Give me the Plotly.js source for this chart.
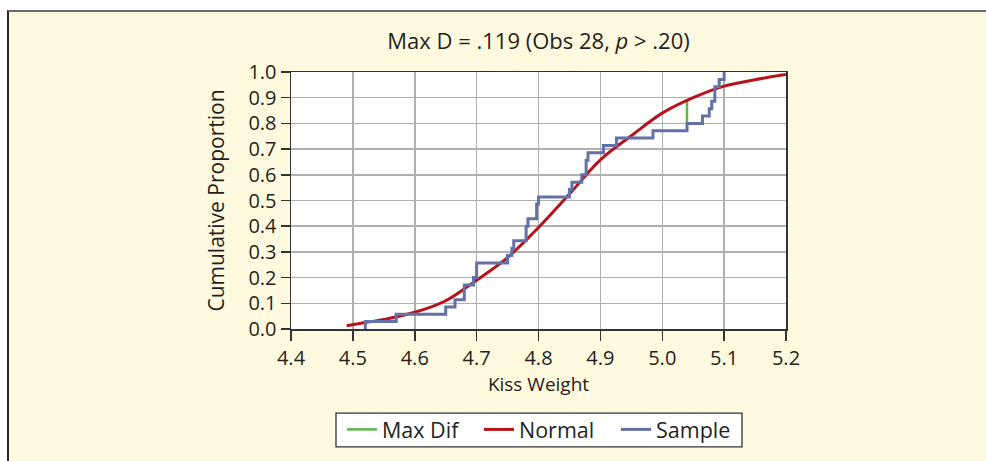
<!DOCTYPE html>
<html>
<head>
<meta charset="utf-8">
<script src="https://cdn.plot.ly/plotly-3.0.1.min.js"></script>
<style>
  html, body { margin: 0; padding: 0; background: #ffffff; }
  #wrap { position: absolute; left: 0; top: 0; width: 986px; height: 461px; background: #ffffff; overflow: hidden; }
  #chart { position: absolute; left: 7px; top: 10px; width: 977px; height: 449px;
           border-left: 2px solid #2a2a2a; border-top: 2px solid #6b6b6b; }
</style>
</head>
<body>
<div id="wrap"><div id="chart"></div></div>
<script>
// Sample empirical CDF: jump positions and cumulative proportion after each jump
const sampleX = [4.52, 4.52, 4.57, 4.65, 4.665, 4.68, 4.695, 4.70, 4.75, 4.757, 4.76, 4.78, 4.783, 4.797, 4.80,
                 4.85, 4.854, 4.87, 4.877, 4.88, 4.905, 4.926, 4.985, 5.04, 5.065, 5.076, 5.08, 5.085, 5.092, 5.10];
const sampleY = [0.000, 0.029, 0.057, 0.086, 0.114, 0.171, 0.200, 0.257, 0.286, 0.314, 0.343, 0.400, 0.429, 0.486, 0.514,
                 0.543, 0.571, 0.600, 0.657, 0.686, 0.714, 0.743, 0.771, 0.800, 0.829, 0.857, 0.886, 0.943, 0.971, 1.000];

// Fitted normal CDF
const normalX = [4.49, 4.52, 4.55, 4.60, 4.65, 4.70, 4.75, 4.80, 4.85, 4.90, 4.95, 5.00, 5.05, 5.10, 5.15, 5.20];
const normalY = [0.013, 0.025, 0.037, 0.065, 0.110, 0.190, 0.278, 0.395, 0.525, 0.658, 0.752, 0.840, 0.900, 0.945, 0.970, 0.990];

// Maximum difference segment
const maxDifX = [5.04, 5.04];
const maxDifY = [0.800, 0.895];

const FONT = '"Open Sans", "Noto Sans", sans-serif';
const INK = '#231f20';

const traces = [
  { x: maxDifX, y: maxDifY, name: 'Max Dif', type: 'scatter', mode: 'lines',
    line: { color: '#5cb848', width: 2.5 } },
  { x: normalX, y: normalY, name: 'Normal', type: 'scatter', mode: 'lines',
    line: { color: '#b5121b', width: 3, shape: 'spline', smoothing: 1 } },
  { x: sampleX, y: sampleY, name: 'Sample', type: 'scatter', mode: 'lines',
    line: { color: '#6470a8', width: 3, shape: 'hv' } }
];

const axisCommon = {
  showline: true, mirror: true, linecolor: '#333333', linewidth: 1.5,
  ticks: 'outside', tickcolor: '#333333', tickwidth: 1.5,
  showgrid: true, gridcolor: '#b0b0b0', gridwidth: 1.5, zeroline: false,
  tickfont: { family: FONT, size: 20, color: INK }
};

const layout = {
  width: 977, height: 449,
  paper_bgcolor: '#fffadf', plot_bgcolor: '#ffffff',
  margin: { l: 282, r: 200, t: 60, b: 132, pad: 0 },
  font: { family: FONT, color: INK },
  title: { text: 'Max D = .119 (Obs 28, <i>p</i> &gt; .20)', font: { family: FONT, size: 22, color: INK },
           x: 0.5, xref: 'paper', xanchor: 'center', y: 0.935, yref: 'container', yanchor: 'middle' },
  xaxis: Object.assign({}, axisCommon, {
    range: [4.4, 5.2], dtick: 0.1, tick0: 4.4, tickformat: '.1f', ticklen: 10,
    title: { text: 'Kiss Weight', font: { family: FONT, size: 19, color: INK }, standoff: 8 }
  }),
  yaxis: Object.assign({}, axisCommon, {
    range: [0, 1], dtick: 0.1, tick0: 0, tickformat: '.1f', ticklen: 9,
    title: { text: 'Cumulative Proportion', font: { family: FONT, size: 21, color: INK }, standoff: 18 }
  }),
  shapes: [
    { type: 'rect', xref: 'paper', yref: 'paper', x0: 0.0909, x1: 0.9111, y0: -0.327, y1: -0.459,
      fillcolor: '#ffffff', line: { color: '#333333', width: 1.3 }, layer: 'below' }
  ],
  showlegend: true,
  legend: {
    orientation: 'h', x: 0.103, xanchor: 'left', xref: 'paper',
    y: 0.116, yanchor: 'top', yref: 'container',
    bgcolor: 'rgba(0,0,0,0)', borderwidth: 0,
    font: { family: FONT, size: 21.5, color: INK },
    entrywidth: 92, entrywidthmode: 'pixels', traceorder: 'normal'
  }
};

Plotly.newPlot('chart', traces, layout, { displayModeBar: false, staticPlot: true });
</script>
</body>
</html>
